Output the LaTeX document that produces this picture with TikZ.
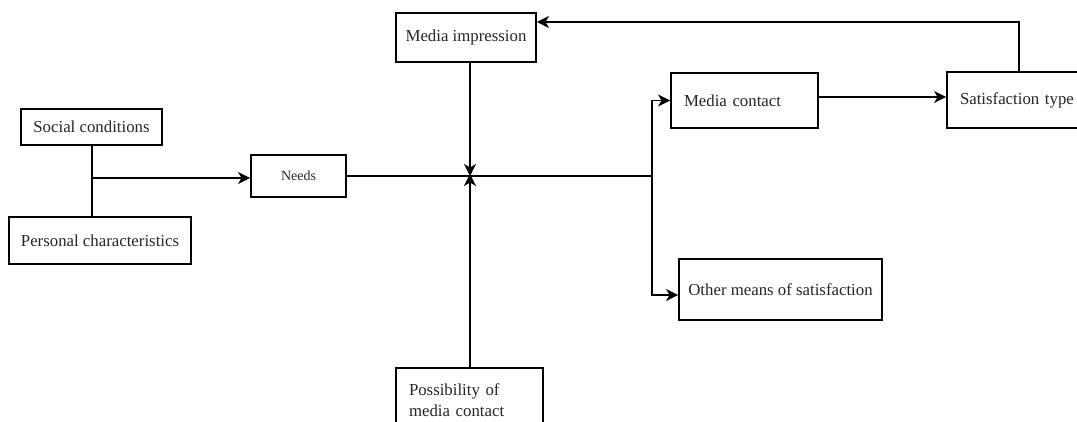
\documentclass[tikz,border=0pt]{standalone}
\usepackage{fontspec}
\setmainfont{Liberation Serif}
\usetikzlibrary{arrows.meta}
\begin{document}
\begin{tikzpicture}[x=1pt,y=-1pt,
  box/.style={draw, line width=1.9pt, rectangle, inner sep=0pt, font=\fontsize{16.8}{20.5}\selectfont, text=black!85},
  conn/.style={line width=1.9pt},
  arr/.style={conn, -{Stealth[length=12pt,width=12pt,inset=3.5pt]}}
]
\clip (0,0) rectangle (1077,421);
\fill[white] (0,0) rectangle (1077,421);

\node[box, minimum width=141pt, minimum height=36pt] (soc) at (91.5,127) {Social conditions};
\node[box, minimum width=182pt, minimum height=47pt] (pers) at (100,240.5) {Personal characteristics};
\node[box, minimum width=95pt, minimum height=42pt, font=\fontsize{14}{17}\selectfont] (needs) at (298.5,176) {Needs};
\node[box, minimum width=140pt, minimum height=49pt] (mi) at (466,37.5) {Media impression};
\node[box, minimum width=147pt, minimum height=64pt, align=left, text width=121pt] (poss) at (469.5,400) {Possibility of\\media contact};
\node[box, minimum width=147pt, minimum height=55pt, align=left, text width=121pt] (mc) at (744.5,100.5) {Media contact};
\node[box, minimum width=140pt, minimum height=56pt, align=left, text width=114pt] (sat) at (1017,100) {Satisfaction type};
\node[box, minimum width=203pt, minimum height=61pt] (om) at (780.5,289.5) {Other means of satisfaction};

\coordinate (j1) at (92,178);
\coordinate (jx) at (470,176);
\coordinate (br) at (652,176);
\coordinate (fb) at (1019,22);

\draw[conn] (soc.south -| j1) -- (pers.north -| j1);
\draw[arr] (j1) -- (j1 -| needs.west);
\draw[conn] (needs.east |- jx) -- (br);
\draw[arr] (mi.south -| jx) -- (jx);
\draw[arr] (poss.north -| jx) -- ([yshift=2pt]jx);
\draw[arr] (br) |- (mc.west);
\draw[arr] (br) |- (om.west |- 0,295);
\draw[arr] (mc.east |- 0,97) -- (sat.west |- 0,97);
\draw[arr] (fb |- sat.north) -- (fb) -- (fb -| mi.east);
\end{tikzpicture}
\end{document}
